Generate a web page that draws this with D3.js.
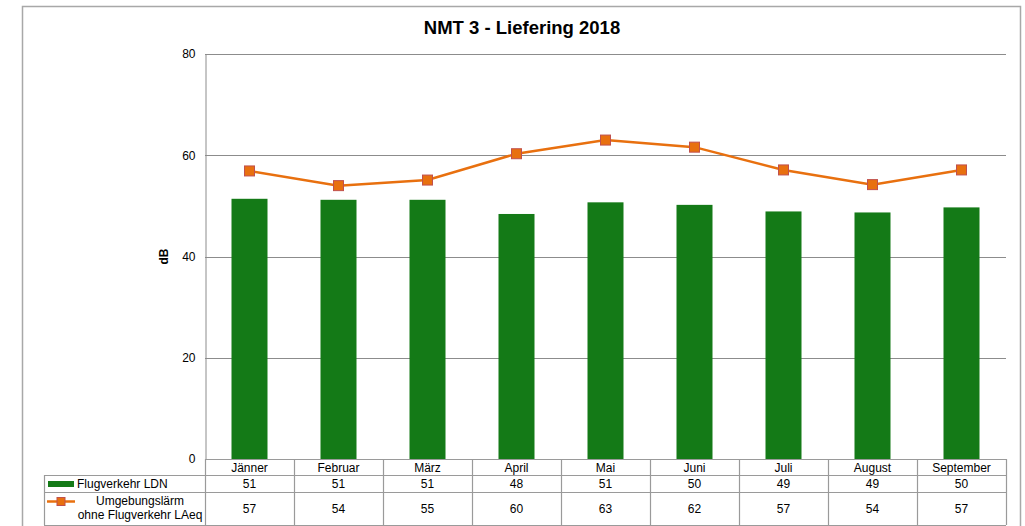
<!DOCTYPE html>
<html>
<head>
<meta charset="utf-8">
<script src="https://cdn.jsdelivr.net/npm/d3@7"></script>
<style>
  body { margin: 0; background: #fff; }
  svg { font-family: "Liberation Sans", Arial, sans-serif; }
</style>
</head>
<body>
<svg id="chart" width="1025" height="526"></svg>
<script>
// chart data
const months = ['Jänner', 'Februar', 'März', 'April', 'Mai', 'Juni', 'Juli', 'August', 'September'];
const flugLdn = [51.4, 51.2, 51.2, 48.4, 50.7, 50.2, 48.9, 48.7, 49.7];
const umgebungLaeq = [56.9, 54.0, 55.1, 60.3, 63.0, 61.6, 57.1, 54.2, 57.1];
const yTicks = [0, 20, 40, 60, 80];

const GREEN = '#147a17';
const ORANGE = '#e8700f';
const GRID = '#8c8c8c';
const TABLE = '#9a9a9a';

const svg = d3.select('#chart');
const plot = { left: 205, right: 1006, top: 54, bottom: 459 };

// outer frame (no bottom edge in the crop)
svg.append('path')
  .attr('d', 'M22.5,526 V6.5 H1020.5 V526')
  .attr('fill', 'none').attr('stroke', '#a8a8a8').attr('stroke-width', 1.5);

svg.append('text')
  .attr('x', 522).attr('y', 34)
  .attr('text-anchor', 'middle')
  .attr('font-size', 18.5).attr('font-weight', 'bold')
  .text('NMT 3 - Liefering 2018');

const x = d3.scaleBand().domain(months).range([plot.left, plot.right]);
const y = d3.scaleLinear().domain([0, 80]).range([plot.bottom, plot.top]);

// gridlines
svg.append('g')
  .selectAll('line')
  .data(yTicks.filter(t => t > 0))
  .join('line')
  .attr('x1', plot.left).attr('x2', plot.right)
  .attr('y1', d => Math.round(y(d)) + 0.5).attr('y2', d => Math.round(y(d)) + 0.5)
  .attr('stroke', GRID);

// y axis
const yAxis = svg.append('g')
  .attr('transform', `translate(${plot.left + 0.5},0)`)
  .call(d3.axisLeft(y).tickValues(yTicks).tickSize(0).tickPadding(10));
yAxis.select('.domain').attr('stroke', GRID);
yAxis.selectAll('.tick text').attr('font-size', 12).attr('fill', '#000')
  .attr('font-family', '"Liberation Sans", Arial, sans-serif');

svg.append('text')
  .attr('transform', `translate(168,${(plot.top + plot.bottom) / 2}) rotate(-90)`)
  .attr('text-anchor', 'middle')
  .attr('font-size', 12).attr('font-weight', 'bold')
  .text('dB');

// bars
const barW = 36;
svg.append('g')
  .selectAll('rect')
  .data(flugLdn)
  .join('rect')
  .attr('x', (d, i) => x(months[i]) + x.bandwidth() / 2 - barW / 2)
  .attr('y', d => y(d))
  .attr('width', barW)
  .attr('height', d => y(0) - y(d))
  .attr('fill', GREEN);

// line + markers
const line = d3.line()
  .x((d, i) => x(months[i]) + x.bandwidth() / 2)
  .y(d => y(d));
svg.append('path')
  .datum(umgebungLaeq)
  .attr('d', line)
  .attr('fill', 'none').attr('stroke', ORANGE).attr('stroke-width', 2.5);
svg.append('g')
  .selectAll('rect')
  .data(umgebungLaeq)
  .join('rect')
  .attr('x', (d, i) => x(months[i]) + x.bandwidth() / 2 - 5)
  .attr('y', d => y(d) - 5)
  .attr('width', 10).attr('height', 10)
  .attr('fill', ORANGE).attr('stroke', '#c0504d').attr('stroke-width', 1);

// data table
const rows = [
  { top: 459, bottom: 475 },
  { top: 475, bottom: 492 },
  { top: 492, bottom: 525 },
];
const tableLeft = 44;
const tbl = svg.append('g').attr('stroke', TABLE).attr('fill', 'none').attr('stroke-width', 1.2);
// horizontal lines
tbl.append('line').attr('x1', plot.left).attr('x2', plot.right).attr('y1', rows[0].top + 0.5).attr('y2', rows[0].top + 0.5);
[rows[1].top, rows[2].top, rows[2].bottom].forEach(v => {
  tbl.append('line').attr('x1', tableLeft).attr('x2', plot.right).attr('y1', v + 0.5).attr('y2', v + 0.5);
});
// vertical lines
tbl.append('line').attr('x1', tableLeft + 0.5).attr('x2', tableLeft + 0.5).attr('y1', rows[1].top).attr('y2', rows[2].bottom);
months.forEach(m => {
  tbl.append('line').attr('x1', x(m) + 0.5).attr('x2', x(m) + 0.5).attr('y1', rows[0].top).attr('y2', rows[2].bottom);
});
tbl.append('line').attr('x1', plot.right + 0.5).attr('x2', plot.right + 0.5).attr('y1', rows[0].top).attr('y2', rows[2].bottom);

const cellText = (values, row, fmt) => {
  svg.append('g')
    .selectAll('text')
    .data(values)
    .join('text')
    .attr('x', (d, i) => x(months[i]) + x.bandwidth() / 2)
    .attr('y', (row.top + row.bottom) / 2 + 4.5)
    .attr('text-anchor', 'middle')
    .attr('font-size', 12)
    .text(fmt);
};
cellText(months, rows[0], d => d);
cellText(flugLdn, rows[1], d => Math.round(d));
cellText(umgebungLaeq, rows[2], d => Math.round(d));

// legend keys in the table
svg.append('rect')
  .attr('x', 48).attr('y', 481).attr('width', 26).attr('height', 6)
  .attr('fill', GREEN);
svg.append('text')
  .attr('x', 77).attr('y', 488).attr('font-size', 12)
  .text('Flugverkehr LDN');

svg.append('line')
  .attr('x1', 47).attr('x2', 75).attr('y1', 501.5).attr('y2', 501.5)
  .attr('stroke', ORANGE).attr('stroke-width', 2.5);
svg.append('rect')
  .attr('x', 57).attr('y', 497.5).attr('width', 8).attr('height', 8)
  .attr('fill', ORANGE).attr('stroke', '#c0504d');
const lbl = svg.append('text').attr('font-size', 12).attr('text-anchor', 'middle');
lbl.append('tspan').attr('x', 140).attr('y', 505).text('Umgebungslärm');
lbl.append('tspan').attr('x', 140).attr('y', 519).text('ohne Flugverkehr LAeq');
</script>
</body>
</html>
